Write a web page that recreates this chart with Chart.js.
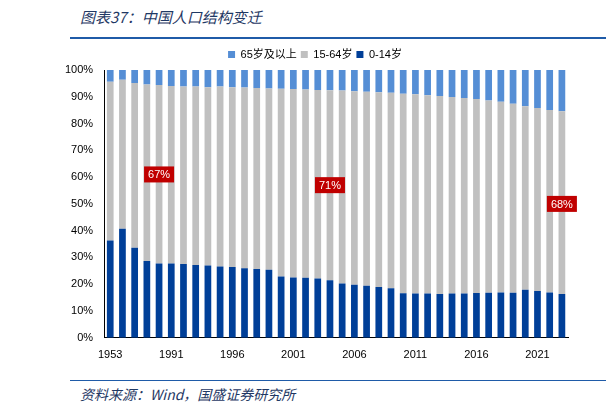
<!DOCTYPE html>
<html>
<head>
<meta charset="utf-8">
<script src="https://cdn.jsdelivr.net/npm/chart.js@4"></script>
<style>
  body { margin: 0; width: 606px; height: 416px; background: #fff; position: relative; font-family: "Noto Sans CJK SC", sans-serif; overflow: hidden; }
  #title { position: absolute; left: 80px; top: 6px; font-size: 15px; font-style: italic; color: #1F3864; }
  #topLine { position: absolute; left: 70px; top: 37px; width: 536px; height: 2px; background: #1F5BA8; }
  #botLine { position: absolute; left: 70px; top: 380px; width: 536px; height: 1px; background: #1F5BA8; }
  #source { position: absolute; left: 80px; top: 384px; font-size: 14px; font-style: italic; color: #1F3864; }
  #wrap { position: absolute; left: 0; top: 45px; width: 606px; height: 330px; }
</style>
</head>
<body>
<div id="title">图表37：中国人口结构变迁</div>
<div id="topLine"></div>
<div id="wrap"><canvas id="popChart"></canvas></div>
<div id="botLine"></div>
<div id="source">资料来源：Wind，国盛证券研究所</div>
<script>
// Years shown as bars
const years = ['1953', '1964', '1982', '1987', '1990', '1991', '1992', '1993', '1994', '1995',
  '1996', '1997', '1998', '1999', '2000', '2001', '2002', '2003', '2004', '2005',
  '2006', '2007', '2008', '2009', '2010', '2011', '2012', '2013', '2014', '2015',
  '2016', '2017', '2018', '2019', '2020', '2021', '2022', '2023'];

// Share of population by age group (%)
const age0to14 = [36.3, 40.7, 33.6, 28.7, 27.7, 27.7, 27.6, 27.2, 27.0, 26.6,
  26.4, 26.0, 25.7, 25.4, 22.9, 22.5, 22.4, 22.1, 21.5, 20.3,
  19.8, 19.4, 19.0, 18.5, 16.6, 16.5, 16.5, 16.4, 16.5, 16.5,
  16.7, 16.8, 16.9, 16.8, 17.9, 17.5, 16.9, 16.4];
const age65plus = [4.4, 3.6, 4.9, 5.4, 5.6, 6.0, 6.2, 6.2, 6.4, 6.2,
  6.4, 6.5, 6.7, 6.9, 7.0, 7.1, 7.3, 7.5, 7.6, 7.7,
  7.9, 8.1, 8.3, 8.5, 8.9, 9.1, 9.4, 9.7, 10.1, 10.5,
  10.8, 11.4, 11.9, 12.6, 13.5, 14.2, 14.9, 15.4];
const age15to64 = age0to14.map((v, i) => +(100 - v - age65plus[i]).toFixed(1));

const yTicks = [0, 10, 20, 30, 40, 50, 60, 70, 80, 90, 100];

// Red callouts: label, bar year, y value (%)
const callouts = [
  { text: '67%', year: '1990', y: 61 },
  { text: '71%', year: '2004', y: 57 },
  { text: '68%', year: '2023', y: 50 }
];

const calloutPlugin = {
  id: 'callouts',
  afterDatasetsDraw(chart) {
    const ctx = chart.ctx;
    const xs = chart.scales.x, ys = chart.scales.y;
    ctx.save();
    ctx.font = '11px Arial, "Liberation Sans", sans-serif';
    ctx.textAlign = 'center';
    ctx.textBaseline = 'middle';
    callouts.forEach(c => {
      const x = xs.getPixelForValue(years.indexOf(c.year));
      const y = ys.getPixelForValue(c.y);
      const w = ctx.measureText(c.text).width + 8;
      ctx.fillStyle = '#C00000';
      ctx.fillRect(x - w / 2, y - 8, w, 16);
      ctx.fillStyle = '#fff';
      ctx.fillText(c.text, x, y + 1);
    });
    ctx.restore();
  }
};

new Chart(document.getElementById('popChart'), {
  type: 'bar',
  data: {
    labels: years,
    datasets: [
      { label: '65岁及以上', data: age65plus, backgroundColor: '#558ED5', order: 3, stack: 's' },
      { label: '15-64岁', data: age15to64, backgroundColor: '#C0C0C0', order: 2, stack: 's' },
      { label: '0-14岁', data: age0to14, backgroundColor: '#003F98', order: 1, stack: 's' }
    ].reverse()
  },
  options: {
    responsive: true,
    maintainAspectRatio: false,
    animation: false,
    layout: { padding: { left: 62, right: 38, top: 0, bottom: 10 } },
    datasets: { bar: { barPercentage: 0.55, categoryPercentage: 1 } },
    plugins: {
      legend: {
        position: 'top',
        reverse: true,
        labels: { boxWidth: 7, boxHeight: 7, padding: 4, color: '#000',
          font: { size: 11, family: 'Arial, "Noto Sans CJK SC", sans-serif' } }
      },
      tooltip: { enabled: false }
    },
    scales: {
      x: {
        stacked: true,
        grid: { display: false },
        border: { color: '#000' },
        ticks: {
          autoSkip: false, maxRotation: 0, color: '#000',
          font: { size: 11, family: 'Arial, "Liberation Sans", sans-serif' },
          callback(v) {
            const yr = +years[v];
            return (yr === 1953 || (yr >= 1991 && (yr - 1991) % 5 === 0)) ? years[v] : '';
          }
        }
      },
      y: {
        stacked: true,
        min: 0, max: 100,
        afterBuildTicks(axis) { axis.ticks = yTicks.map(v => ({ value: v })); },
        grid: { display: false },
        border: { color: '#000' },
        ticks: { color: '#000', font: { size: 11, family: 'Arial, "Liberation Sans", sans-serif' },
          callback: v => v + '%' }
      }
    }
  },
  plugins: [calloutPlugin]
});
</script>
</body>
</html>
